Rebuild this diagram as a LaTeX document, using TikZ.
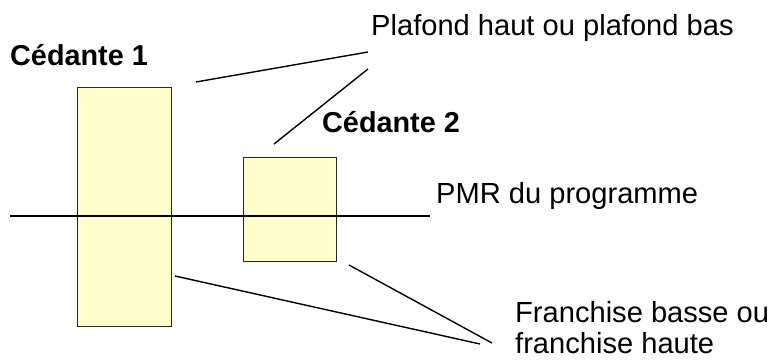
\documentclass[tikz,border=0pt]{standalone}
\usepackage{fontspec}
\setmainfont{Liberation Sans}
\definecolor{boxfill}{HTML}{FFFFCC}
\begin{document}
\begin{tikzpicture}[x=1pt,y=-1pt,
  bar/.style={draw=black!85, fill=boxfill, line width=1.4pt, inner sep=0pt, anchor=north west},
  lbl/.style={anchor=base west, inner sep=0pt, font=\fontsize{29.1}{31}\selectfont},
  blbl/.style={anchor=base west, inner sep=0pt, font=\fontsize{28.8}{31}\selectfont\bfseries},
  conn/.style={draw=black, line width=1.4pt}]
\useasboundingbox (0,0) rectangle (773,359);
\node[bar, minimum width=94pt, minimum height=239pt] (c1) at (77,87) {};
\node[bar, minimum width=93pt, minimum height=104pt] (c2) at (243,157) {};
\node[blbl] (t1) at (10,65) {Cédante 1};
\node[blbl] (t2) at (322,132) {Cédante 2};
\node[lbl] (plaf) at (371,35) {Plafond haut ou plafond bas};
\node[lbl] (pmr) at (436,203) {PMR du programme};
\node[lbl] (fr1) at (515,322) {Franchise basse ou};
\node[lbl] (fr2) at (515,353) {franchise haute};
\coordinate (l0) at (10,216);
\coordinate (l1) at (430,216);
\draw[conn] (l0) -- (l1);
\coordinate (pa) at (368,52);
\coordinate (pb) at (368,69);
\coordinate (a1) at (196,82);
\coordinate (a2) at (274,144);
\draw[conn] (a1) -- (pa);
\draw[conn] (a2) -- (pb);
\coordinate (fa) at (480,344);
\coordinate (fb) at (492,343);
\coordinate (b1) at (175,276);
\coordinate (b2) at (349,265);
\draw[conn] (b1) -- (fa);
\draw[conn] (b2) -- (fb);
\end{tikzpicture}
\end{document}
